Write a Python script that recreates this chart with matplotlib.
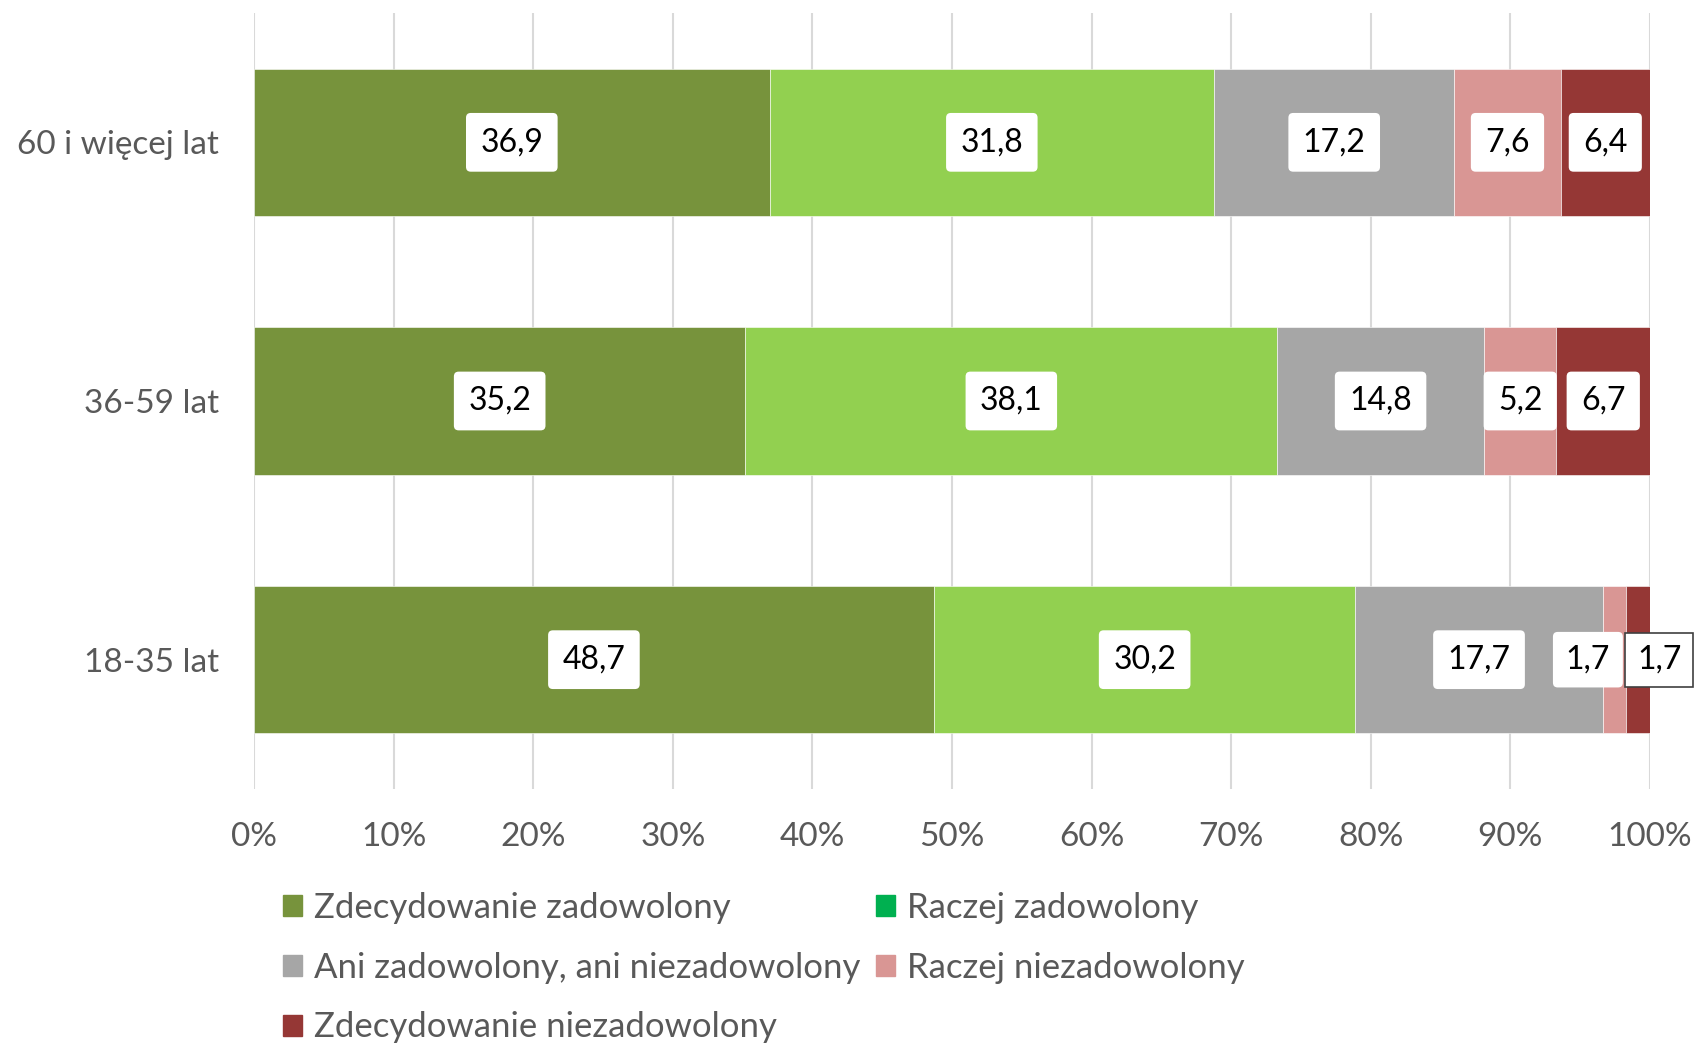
import numpy as np
import matplotlib.pyplot as plt
from matplotlib.patches import Patch

plt.rcParams['font.family'] = ['Lato', 'DejaVu Sans']

# --- data ---
groups = ['18-35 lat', '36-59 lat', '60 i więcej lat']
series = ['Zdecydowanie zadowolony', 'Raczej zadowolony',
          'Ani zadowolony, ani niezadowolony', 'Raczej niezadowolony',
          'Zdecydowanie niezadowolony']
values = [
    [48.7, 35.2, 36.9],
    [30.2, 38.1, 31.8],
    [17.7, 14.8, 17.2],
    [1.7, 5.2, 7.6],
    [1.7, 6.7, 6.4],
]
bar_colors = ['#77933C', '#92D050', '#A6A6A6', '#D99694', '#953735']
legend_colors = ['#77933C', '#00B050', '#A6A6A6', '#D99694', '#953735']

# label nudges (in % units) where Excel moved small labels
nudge = {(3, 0): -1.9, (4, 0): 1.5}

vals = np.array(values)
totals = vals.sum(axis=0)
pct = vals / totals * 100

fig = plt.figure(figsize=(17, 10.47), dpi=100)
ax = fig.add_axes([0.1494, 0.2464, 0.8212, 0.7412])

y = np.arange(len(groups))
left = np.zeros(len(groups))
for i, s in enumerate(series):
    ax.barh(y, pct[i], left=left, height=0.57, color=bar_colors[i],
            edgecolor='white', linewidth=0.4, zorder=2)
    for j in range(len(groups)):
        xc = left[j] + pct[i][j] / 2 + nudge.get((i, j), 0)
        txt = f"{values[i][j]:.1f}".replace('.', ',')
        if (i, j) == (4, 0):
            box = dict(boxstyle='square,pad=0.38', fc='white', ec='#404040', lw=1.2)
        elif i == 3 and j == 0:
            box = dict(boxstyle='round,pad=0.4,rounding_size=0.15', fc='white', ec='none')
        else:
            box = dict(boxstyle='round,pad=0.45,rounding_size=0.15', fc='white', ec='none')
        ax.text(xc, y[j], txt, ha='center', va='center', fontsize=23,
                color='black', bbox=box, zorder=5)
    left += pct[i]

ax.set_xlim(0, 100)
ax.set_ylim(-0.5, 2.5)
ax.set_xticks(np.arange(0, 101, 10))
ax.set_xticklabels([f"{t}%" for t in range(0, 101, 10)])
ax.set_yticks(y)
ax.set_yticklabels(groups)
ax.tick_params(axis='both', length=0, labelsize=24, colors='#595959')
ax.tick_params(axis='x', pad=24)
ax.tick_params(axis='y', pad=25)
ax.grid(axis='x', color='#D9D9D9', linewidth=1.5, zorder=0)
for sp in ax.spines.values():
    sp.set_visible(False)

# Excel fills legend row by row; matplotlib fills column by column
order = [0, 2, 4, 1, 3]
handles = [Patch(color=legend_colors[k], label=series[k]) for k in order]
leg = fig.legend(handles=handles, ncol=2, loc='upper left',
                 bbox_to_anchor=(0.148, 0.178), frameon=False, fontsize=25,
                 handlelength=0.55, handleheight=0.55, handletextpad=0.35,
                 columnspacing=0.45, labelspacing=0.8, labelcolor='#595959')

fig.savefig('out.png', dpi=100)
